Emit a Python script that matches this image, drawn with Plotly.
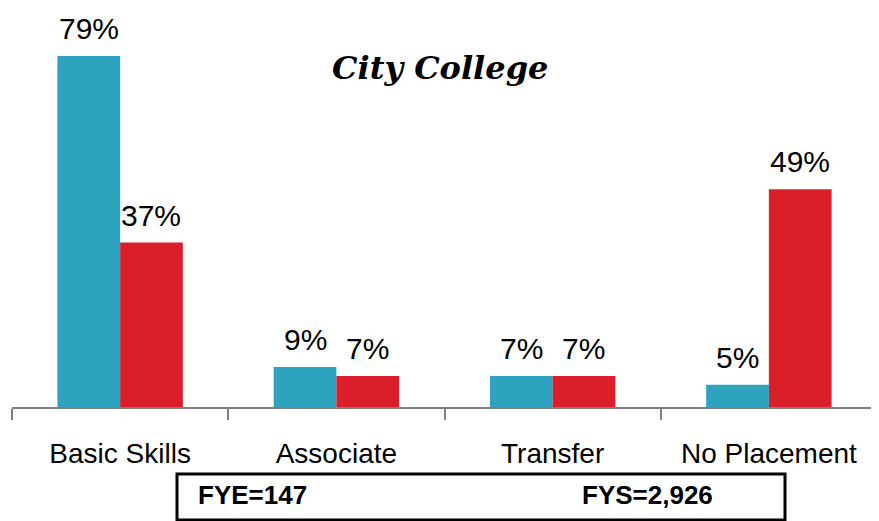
import plotly.graph_objects as go

categories = ["Basic Skills", "Associate", "Transfer", "No Placement"]
fye_values = [79, 9, 7, 5]
fys_values = [37, 7, 7, 49]
fye_label = "FYE=147"
fys_label = "FYS=2,926"
title_text = "City College"

W, H = 879, 521
OFF = 8  # page body margin offset in the screenshot

# desired screen positions
scr_left, scr_right, scr_bottom = 12, 877, 407
ml = scr_left - OFF
mr = W - (scr_right - OFF)
mt = 0
plot_bottom_fig = scr_bottom - OFF
mb = H - plot_bottom_fig
plot_h = plot_bottom_fig - mt
px_per_unit = 351 / 79.0
ymax = plot_h / px_per_unit
bargap = 0.42
cat_px = (W - ml - mr) / len(categories)
bar_px = cat_px * (1 - bargap) / 2

def py(sy):
    return (plot_bottom_fig - (sy - OFF)) / plot_h

def pxx(sx):
    return ((sx - OFF) - ml) / (W - ml - mr)

label_font = dict(family="Liberation Sans, Arial", size=30, color="black")

fig = go.Figure()
fig.add_trace(go.Bar(
    x=categories, y=fye_values, name="FYE",
    marker=dict(color="#2EA3C0", line=dict(width=0)),
))
fig.add_trace(go.Bar(
    x=categories, y=fys_values, name="FYS",
    marker=dict(color="#DA1F2A", line=dict(width=0)),
))

for vals, shift in ((fye_values, -bar_px / 2), (fys_values, bar_px / 2)):
    for c, v in zip(categories, vals):
        fig.add_annotation(
            x=c, y=v, text=f"{v}%", showarrow=False,
            xanchor="center", yanchor="bottom", xshift=shift, yshift=9,
            font=label_font,
        )

fig.update_layout(
    width=W, height=H,
    margin=dict(l=ml, r=mr, t=mt, b=mb),
    paper_bgcolor="white", plot_bgcolor="white",
    barmode="group", bargap=bargap, bargroupgap=0,
    showlegend=False,
)
fig.update_xaxes(
    type="category", range=[-0.5, 3.5],
    showline=True, linecolor="#7F7F7F", linewidth=2,
    ticks="outside", tickson="boundaries", ticklen=11, tickwidth=2, tickcolor="#7F7F7F",
    tickfont=dict(family="Liberation Sans, Arial", size=28, color="black"),
    ticklabelstandoff=20,
    showgrid=False, zeroline=False,
)
fig.update_yaxes(range=[0, ymax], visible=False, showgrid=False, zeroline=False)

fig.add_annotation(
    text=title_text, xref="paper", yref="paper",
    x=pxx(440), y=py(68), showarrow=False,
    font=dict(family="DejaVu Serif", size=32, color="black", weight="bold", style="italic"),
    xanchor="center", yanchor="middle",
)

fig.add_shape(
    type="rect", xref="paper", yref="paper",
    x0=pxx(177), x1=pxx(785), y0=py(474), y1=py(520),
    line=dict(color="black", width=3), fillcolor="rgba(0,0,0,0)",
)
box_font = dict(family="Liberation Sans, Arial", size=26, color="black", weight="bold")
fig.add_annotation(
    text=fye_label, xref="paper", yref="paper", x=pxx(196), y=py(495),
    showarrow=False, xanchor="left", yanchor="middle", font=box_font,
)
fig.add_annotation(
    text=fys_label, xref="paper", yref="paper", x=pxx(580), y=py(495),
    showarrow=False, xanchor="left", yanchor="middle", font=box_font,
)

fig.write_html("out.html")
